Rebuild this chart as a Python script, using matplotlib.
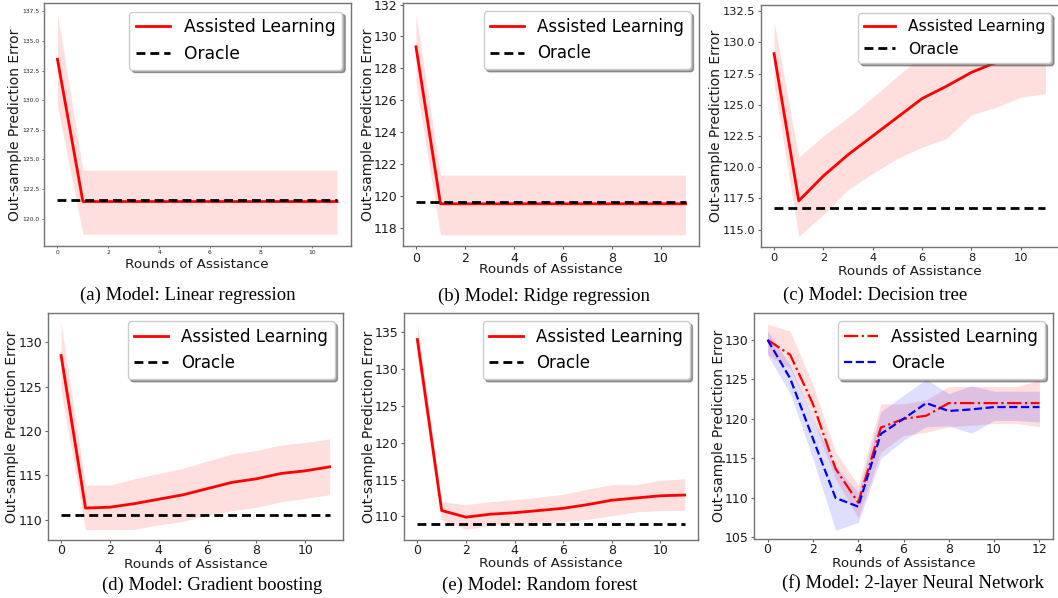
import matplotlib
matplotlib.use("Agg")
import matplotlib.pyplot as plt

# ---------------- data ----------------
rounds = [0, 1, 2, 3, 4, 5, 6, 7, 8, 9, 10, 11]
rounds_nn = [0, 1, 2, 3, 4, 5, 6, 7, 8, 9, 10, 11, 12]

lin_mean = [133.45, 121.45, 121.45, 121.45, 121.45, 121.45, 121.45, 121.45, 121.45, 121.45, 121.45, 121.45]
lin_upper = [137.3, 124.1, 124.1, 124.1, 124.1, 124.1, 124.1, 124.1, 124.1, 124.1, 124.1, 124.1]
lin_lower = [129.5, 118.7, 118.7, 118.7, 118.7, 118.7, 118.7, 118.7, 118.7, 118.7, 118.7, 118.7]
lin_oracle = [121.6] * 12

ridge_mean = [129.35, 119.5, 119.5, 119.5, 119.5, 119.5, 119.5, 119.5, 119.5, 119.5, 119.5, 119.5]
ridge_upper = [131.4, 121.3, 121.3, 121.3, 121.3, 121.3, 121.3, 121.3, 121.3, 121.3, 121.3, 121.3]
ridge_lower = [127.1, 117.55, 117.55, 117.55, 117.55, 117.55, 117.55, 117.55, 117.55, 117.55, 117.55, 117.55]
ridge_oracle = [119.62] * 12

tree_mean = [129.1, 117.3, 119.3, 121.0, 122.5, 124.0, 125.5, 126.5, 127.6, 128.4, 129.1, 129.7]
tree_upper = [131.7, 120.8, 122.5, 124.0, 125.6, 127.3, 128.9, 129.9, 130.7, 131.3, 131.8, 132.1]
tree_lower = [126.7, 114.45, 116.2, 118.2, 119.5, 120.7, 121.6, 122.3, 124.2, 124.8, 125.6, 125.9]
tree_oracle = [116.7] * 12

gb_mean = [128.5, 111.3, 111.4, 111.8, 112.3, 112.8, 113.5, 114.2, 114.6, 115.2, 115.5, 115.95]
gb_upper = [132.1, 113.9, 113.9, 114.6, 115.2, 115.8, 116.6, 117.4, 117.8, 118.4, 118.7, 119.1]
gb_lower = [124.5, 108.85, 108.9, 108.9, 109.4, 109.8, 110.5, 111.0, 111.4, 112.0, 112.4, 112.8]
gb_oracle = [110.5] * 12

rf_mean = [134.0, 110.8, 109.9, 110.3, 110.5, 110.8, 111.1, 111.6, 112.2, 112.5, 112.8, 112.9]
rf_upper = [136.2, 112.0, 111.6, 112.0, 112.3, 112.6, 113.0, 113.7, 114.3, 114.3, 114.9, 115.1]
rf_lower = [131.6, 109.5, 108.25, 108.8, 109.0, 109.1, 109.3, 109.6, 110.1, 110.6, 110.8, 110.8]
rf_oracle = [109.0] * 12

nn_assist = [130.0, 128.1, 121.9, 113.7, 109.4, 118.9, 120.0, 120.4, 122.0, 122.0, 122.0, 122.0, 122.0]
nn_assist_upper = [132.0, 131.1, 124.3, 115.8, 111.6, 121.9, 121.9, 122.4, 124.1, 124.1, 124.1, 124.1, 124.9]
nn_assist_lower = [128.1, 126.4, 120.0, 112.4, 107.5, 115.8, 117.9, 118.3, 119.0, 119.2, 119.4, 119.4, 119.0]
nn_oracle = [130.0, 125.1, 117.5, 110.0, 108.9, 118.1, 120.0, 122.0, 121.0, 121.2, 121.5, 121.5, 121.5]
nn_oracle_upper = [131.1, 126.8, 120.0, 114.0, 110.7, 120.9, 123.0, 125.0, 123.2, 124.2, 123.5, 123.5, 123.5]
nn_oracle_lower = [128.1, 123.2, 115.0, 105.9, 106.9, 115.0, 117.3, 119.0, 119.1, 118.2, 119.8, 119.8, 119.6]

captions = ["(a) Model: Linear regression", "(b) Model: Ridge regression",
            "(c) Model: Decision tree", "(d) Model: Gradient boosting",
            "(e) Model: Random forest", "(f) Model: 2-layer Neural Network"]

# ---------------- layout ----------------
W, H = 1058, 598
fig = plt.figure(figsize=(W / 100, H / 100), dpi=100)
fig.patch.set_facecolor("white")


def px_axes(l, t, r, b):
    return fig.add_axes([l / W, 1 - b / H, (r - l) / W, (b - t) / H])


panels = [
    dict(box=(43.5, 3, 351, 246), ylim=(117.7, 138.2), xl=264.5, yl=15, cap=(188, 295), ts=4.3, ls=12.3, xpad=1.5),
    dict(box=(402.5, 3, 699, 246), ylim=(116.85, 132.1), xl=270, yl=368, cap=(544, 296), ts=9, ls=12, xpad=2.2),
    dict(box=(760.5, 5, 1059, 247), ylim=(113.6, 133.0), xl=272, yl=716, cap=(875, 295), ts=8.2, ls=11.2, xpad=2.2),
    dict(box=(47.7, 313, 343, 540), ylim=(107.7, 133.3), xl=564, yl=12, cap=(212, 585), ts=9, ls=12, xpad=1.0),
    dict(box=(404, 313, 698, 540), ylim=(106.8, 137.6), xl=563.5, yl=369, cap=(540, 585), ts=9, ls=12, xpad=1.0),
    dict(box=(754, 313, 1053, 539), ylim=(104.8, 133.4), xl=563.5, yl=719, cap=(913, 583), ts=9, ls=12, xpad=1.0),
]

series = [
    (lin_mean, lin_upper, lin_lower, lin_oracle),
    (ridge_mean, ridge_upper, ridge_lower, ridge_oracle),
    (tree_mean, tree_upper, tree_lower, tree_oracle),
    (gb_mean, gb_upper, gb_lower, gb_oracle),
    (rf_mean, rf_upper, rf_lower, rf_oracle),
]

for i, p in enumerate(panels):
    l, t, r, b = p["box"]
    ax = px_axes(l, t, r, b)
    if i < 5:
        mean, up, lo, orc = series[i]
        ax.fill_between(rounds, lo, up, color="red", alpha=0.13, linewidth=0)
        ax.plot(rounds, mean, color="red", lw=2.0, label="Assisted Learning")
        ax.plot(rounds, orc, color="black", lw=2.0, ls=(0, (3.2, 1.8)), label="Oracle")
        ax.set_xlim(-0.55, 11.55)
        ax.set_xticks([0, 2, 4, 6, 8, 10])
    else:
        ax.fill_between(rounds_nn, nn_assist_lower, nn_assist_upper, color="red", alpha=0.13, linewidth=0)
        ax.fill_between(rounds_nn, nn_oracle_lower, nn_oracle_upper, color="blue", alpha=0.13, linewidth=0)
        ax.plot(rounds_nn, nn_assist, color="red", lw=1.6, ls="-.", label="Assisted Learning")
        ax.plot(rounds_nn, nn_oracle, color="blue", lw=1.6, ls="--", label="Oracle")
        ax.set_xlim(-0.6, 12.6)
        ax.set_xticks([0, 2, 4, 6, 8, 10, 12])
    ax.set_ylim(*p["ylim"])
    for s in ax.spines.values():
        s.set_color("0.45")
        s.set_linewidth(1.0)
    if i == 0:
        ax.tick_params(labelsize=p["ts"], labelcolor="0.15", color="0.4", length=1.5, width=0.6, pad=1.5)
    else:
        ax.tick_params(labelsize=p["ts"], labelcolor="0.1", color="0.4", length=2.2, width=0.8)
        ax.tick_params(axis="y", pad=1.5)
        ax.tick_params(axis="x", pad=p["xpad"])
    ax.set_xlabel("Rounds of Assistance", fontsize=9.7, va="center", color="0.1")
    ax.set_ylabel("Out-sample Prediction Error", fontsize=10, va="center", color="0.1")
    ax.xaxis.set_label_coords(((l + r) / 2) / W, 1 - p["xl"] / H, transform=fig.transFigure)
    ax.yaxis.set_label_coords(p["yl"] / W, 1 - ((t + b) / 2) / H, transform=fig.transFigure)
    ax.legend(loc="upper right", fontsize=p["ls"], shadow=True, fancybox=True, edgecolor="0.8")
    cx, cy = p["cap"]
    fig.text(cx / W, 1 - cy / H, captions[i], ha="center", va="center",
             family="Liberation Serif", fontsize=13.5)

fig.savefig("out.png", dpi=100, facecolor="white")
